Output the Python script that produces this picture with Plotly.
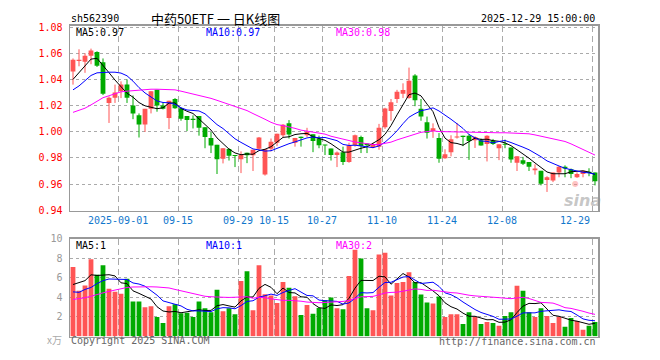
import plotly.graph_objects as go
import pandas as pd
import numpy as np

# ---------------- data ----------------
opens = [1.046,1.054,1.0535,1.058,1.061,1.053,1.022,1.026,1.031,1.036,
         1.020,1.0126,1.0055,1.0175,1.032,1.020,1.0105,1.025,1.018,1.012,
         1.010,1.012,1.0035,0.9953,0.990,0.9793,0.9869,0.9822,0.979,0.984,
         0.982,0.987,0.9674,0.987,0.9916,0.9973,1.0064,0.9916,0.9955,0.9973,
         0.998,0.9948,0.990,0.9871,0.9822,0.9844,0.9768,0.9899,0.996,0.991,
         0.9881,0.9886,1.0035,1.0158,1.025,1.029,1.0257,1.043,1.0175,1.0072,
         1.0005,0.9953,0.9798,0.9844,0.9955,0.997,0.997,0.9935,0.9935,0.9906,
         0.9933,0.9874,0.9906,0.9879,0.9763,0.9783,0.9768,0.9706,0.9701,0.9632,
         0.9627,0.9689,0.9733,0.9714,0.9652,0.9677,0.9694,0.9689]
highs = [1.056,1.063,1.060,1.0635,1.0615,1.056,1.027,1.036,1.0385,1.040,
         1.0277,1.014,1.0175,1.031,1.032,1.0225,1.0237,1.0257,1.0185,1.012,
         1.0125,1.012,1.0035,0.9998,0.990,0.9874,0.9875,0.9822,0.985,0.984,
         0.9862,0.996,0.9867,0.9948,0.9985,1.0059,1.0089,0.9953,0.9963,1.003,
         0.998,0.997,0.990,0.9871,0.9849,0.9886,0.9916,0.9978,0.997,0.991,
         0.9916,1.006,1.0183,1.025,1.032,1.037,1.049,1.044,1.025,1.0116,
         1.0064,0.999,0.9866,0.9973,1.0067,0.997,0.9983,0.9965,0.9948,0.9973,
         0.9945,0.9904,0.9940,0.9879,0.9812,0.9808,0.9768,0.9751,0.9701,0.9660,
         0.9689,0.9738,0.9743,0.9719,0.9689,0.9701,0.9721,0.9689]
lows = [1.036,1.050,1.045,1.0516,1.0495,1.028,1.0067,1.022,1.0257,1.022,
        1.0096,0.9956,0.9998,1.014,1.0153,1.017,1.002,1.0175,1.0084,1.0005,
        1.0025,0.997,0.9874,0.9837,0.9677,0.9758,0.978,0.973,0.9684,0.976,
        0.970,0.9862,0.9665,0.985,0.989,0.996,0.9948,0.9886,0.9886,0.996,
        0.9844,0.9874,0.9822,0.978,0.973,0.9746,0.9763,0.9886,0.9837,0.9837,
        0.9874,0.9862,1.0022,1.0084,1.022,1.0257,1.0252,1.0195,1.0084,0.9948,
        0.9953,0.9763,0.9793,0.9812,0.9948,0.989,0.9785,0.9876,0.9894,0.9773,
        0.9899,0.9783,0.9874,0.9763,0.970,0.9746,0.970,0.9672,0.9590,0.954,
        0.9615,0.9652,0.9652,0.9645,0.9647,0.9652,0.9660,0.959]
closes = [1.055,1.055,1.058,1.062,1.0505,1.029,1.026,1.030,1.036,1.026,
          1.014,1.0055,1.0175,1.031,1.020,1.0175,1.0237,1.018,1.010,1.009,
          1.009,1.003,0.996,0.9894,0.979,0.9874,0.9817,0.9815,0.9825,0.982,
          0.9862,0.9956,0.9867,0.9923,0.9985,1.0054,0.9978,0.9953,0.9953,0.9998,
          0.993,0.9896,0.9894,0.9822,0.9842,0.9768,0.9896,0.9973,0.9891,0.9896,
          0.9906,1.003,1.0178,1.0225,1.0306,1.0318,1.039,1.024,1.0116,0.9993,
          1.0027,0.9793,0.9827,0.9943,0.9962,0.996,0.993,0.996,0.9894,0.997,
          0.9906,0.9904,0.990,0.9788,0.9812,0.9756,0.9733,0.9719,0.9602,0.9652,
          0.9689,0.9733,0.9719,0.9677,0.9677,0.9701,0.9684,0.9622]
volumes = [7.1,4.67,5.2,7.9,6.3,7.27,4.87,4.57,4.37,5.9,
           3.57,3.57,2.97,3.07,1.97,1.37,3.07,3.27,2.37,2.4,
           1.97,3.57,2.87,2.47,4.77,2.57,2.87,2.27,5.67,6.67,
           2.67,7.27,4.3,4.17,3.4,5.57,4.97,4.1,2.17,3.2,
           2.3,2.9,3.7,3.97,2.87,2.77,6.17,8.87,7.97,2.87,
           2.67,8.37,8.57,4.17,5.47,5.57,6.57,5.57,4.27,3.47,
           3.37,4.07,1.97,2.27,2.27,1.27,2.47,1.97,1.27,1.47,
           1.37,1.07,2.07,2.47,5.17,4.67,2.47,1.97,2.87,2.07,
           1.37,1.97,0.97,1.87,1.57,0.67,1.07,1.47]

# moving-average values before the window fills
ma5_head = [1.040, 1.045, 1.050, 1.0555]
ma10_head = [1.032, 1.035, 1.039, 1.043, 1.045, 1.0455, 1.0455, 1.0455, 1.0448]
ma30_head = [1.0148, 1.0165, 1.018, 1.0205, 1.0235, 1.026, 1.0275, 1.029, 1.0305, 1.031,
             1.0315, 1.0318, 1.0322, 1.0325, 1.0325, 1.0325, 1.0322, 1.032, 1.031, 1.030,
             1.029, 1.028, 1.027, 1.0255, 1.024, 1.0225, 1.021, 1.0195, 1.018]
vma5_head = [5.3, 5.5, 5.7, 6.3]
vma10_head = [4.55, 4.5, 4.8, 5.0, 5.4, 5.7, 5.87, 5.87, 5.85]
vma30_head = [3.77, 3.85, 3.95, 4.1, 4.3, 4.45, 4.6, 4.75, 4.9, 5.0,
              5.05, 5.07, 5.07, 5.07, 5.05, 5.0, 4.95, 4.8, 4.65, 4.5,
              4.4, 4.25, 4.1, 4.05, 4.0, 4.0, 3.98, 3.97, 4.02]

price_ticks = [0.94, 0.96, 0.98, 1.00, 1.02, 1.04, 1.06, 1.08]
vol_ticks = [2, 4, 6, 8, 10]
tick_dates = ["2025-09-01", "2025-09-15", "2025-09-29", "2025-10-15", "2025-10-27",
              "2025-11-10", "2025-11-24", "2025-12-08", "2025-12-29"]
tick_labels = ["2025-09-01", "09-15", "09-29", "10-15", "10-27", "11-10", "11-24", "12-08", "12-29"]

symbol = "sh562390"
title = "中药50ETF 一 日K线图"
stamp = "2025-12-29 15:00:00"
price_legend = ["MA5:0.97", "MA10:0.97", "MA30:0.98"]
vol_legend = ["MA5:1", "MA10:1", "MA30:2"]

# trading days (National Day holiday excluded)
days = pd.bdate_range("2025-08-20", "2025-12-29")
days = days[(days < "2025-10-01") | (days > "2025-10-08")]
dates = [d.strftime("%Y-%m-%d") for d in days]
n = len(closes)
idx = np.arange(n)

def moving(values, w, head):
    out = pd.Series(values, dtype=float).rolling(w).mean().to_numpy()
    out[:w - 1] = head
    return out

RED = "#ff5555"
GREEN = "#00aa00"
W, H = 660, 360
MONO = "DejaVu Sans Mono"

o = np.array(opens); c = np.array(closes)
up = c >= o
colors = [RED if u else GREEN for u in up]
body_base = np.minimum(o, c)
body_h = np.maximum(np.abs(c - o), 0.0008)

fig = go.Figure()

# wicks
for flag, col in ((True, RED), (False, GREEN)):
    xs, ys = [], []
    for i in idx:
        if up[i] == flag:
            xs += [i, i, None]
            ys += [lows[i], highs[i], None]
    fig.add_trace(go.Scatter(x=xs, y=ys, mode="lines", line=dict(color=col, width=1),
                             xaxis="x", yaxis="y", hoverinfo="skip"))

fig.add_trace(go.Bar(x=idx, y=body_h, base=body_base, width=0.8,
                     marker=dict(color=colors, line=dict(width=0)), xaxis="x", yaxis="y"))

for vals, w, head, col in ((closes, 5, ma5_head, "black"), (closes, 10, ma10_head, "#0000ff"),
                           (closes, 30, ma30_head, "#ff00ff")):
    fig.add_trace(go.Scatter(x=idx, y=moving(vals, w, head), mode="lines",
                             line=dict(color=col, width=1), xaxis="x", yaxis="y"))

fig.add_trace(go.Bar(x=idx, y=volumes, width=0.8,
                     marker=dict(color=colors, line=dict(width=0)), xaxis="x2", yaxis="y2"))
for vals, w, head, col in ((volumes, 5, vma5_head, "black"), (volumes, 10, vma10_head, "#0000ff"),
                           (volumes, 30, vma30_head, "#ff00ff")):
    fig.add_trace(go.Scatter(x=idx, y=moving(vals, w, head), mode="lines",
                             line=dict(color=col, width=1), xaxis="x2", yaxis="y2"))

grid_x = [dates.index(d) - 0.5 for d in tick_dates]

xcommon = dict(domain=[70 / W, 598 / W], range=[-0.5, n - 0.5], tickvals=grid_x,
               showticklabels=False, showgrid=True, griddash="6px,4px", gridcolor="#aaaaaa",
               gridwidth=1, showline=True, mirror=True, linecolor="#999999", linewidth=1.5,
               zeroline=False, ticks="", fixedrange=True)

p_top, p_bot = 20.5, 211.0
ppx = 1350.0
lo = 0.94 - (p_bot - 210.7) / ppx
hi = 0.94 + (210.7 - p_top) / ppx

fig.update_layout(
    width=W, height=H, margin=dict(l=0, r=0, t=0, b=0),
    paper_bgcolor="white", plot_bgcolor="white", showlegend=False, barmode="overlay",
    hovermode=False,
    xaxis=dict(**xcommon, anchor="y"),
    xaxis2=dict(**xcommon, anchor="y2", matches="x"),
    yaxis=dict(domain=[1 - p_bot / H, 1 - p_top / H], range=[lo, hi], tickvals=price_ticks,
               ticktext=[f"{v:.2f}" for v in price_ticks],
               tickfont=dict(family=MONO, size=10, color="#ff0000"),
               showgrid=True, griddash="dot", gridcolor="#aaaaaa", gridwidth=1,
               showline=True, mirror=True, linecolor="#999999", linewidth=1.5,
               zeroline=False, ticks="", ticklabelstandoff=4, anchor="x", fixedrange=True),
    yaxis2=dict(domain=[1 - 341 / H, 1 - 240 / H], range=[-0.03, 10], tickvals=vol_ticks,
                ticktext=[str(v) for v in vol_ticks],
                tickfont=dict(family=MONO, size=10, color="#999999"),
                showgrid=True, griddash="dot", gridcolor="#aaaaaa", gridwidth=1,
                showline=True, mirror=True, linecolor="#999999", linewidth=1.5,
                zeroline=False, ticks="", ticklabelstandoff=4, anchor="x2", fixedrange=True),
)

def ann(text, xp, yp, color="black", size=10, family=MONO, xanchor="left", **kw):
    fig.add_annotation(text=text, x=xp / W, y=1 - yp / H, xref="paper", yref="paper",
                       xanchor=xanchor, yanchor="middle", showarrow=False,
                       font=dict(family=family, size=size, color=color), **kw)

ann(symbol, 69, 12.5)
ann(title, 149, 12.5, size=13, family="Noto Sans CJK SC")
ann(stamp, 597, 12.5, xanchor="right")

for txt, xp, col in zip(price_legend, (74, 204, 334), ("black", "#0000ff", "#ff00ff")):
    ann(txt, xp, 27, color=col)
for txt, xp, col in zip(vol_legend, (74, 204, 334), ("black", "#0000ff", "#ff00ff")):
    ann(txt, xp, 247, color=col)

ann("x万", 64, 344, color="#aaaaaa", xanchor="right", size=10, family="Noto Sans CJK SC")
ann("Copyright 2025 SINA.COM", 69, 345.5, color="#666666")
ann("http://finance.sina.com.cn", 598, 346, color="#666666", xanchor="right")

# date labels
for k, (gx, lab) in enumerate(zip(grid_x, tick_labels)):
    last = k == len(tick_labels) - 1
    fig.add_annotation(text=lab, x=gx, y=1 - 221 / H, xref="x", yref="paper",
                       xanchor="right" if last else "center", yanchor="middle",
                       showarrow=False, font=dict(family=MONO, size=10, color="#1177cc"))

# sina watermark
ann("<b><i>sina</i></b>", 582, 201, color="rgba(150,150,150,0.55)", size=16,
    family="DejaVu Sans", xanchor="center")
ann("●", 575, 183, color="rgba(255,120,120,0.45)", size=8, family="DejaVu Sans",
    xanchor="center")

fig.write_html("out.html", config={"displayModeBar": False, "staticPlot": True},
               post_script="document.body.style.margin='0px';document.body.style.padding='0px';")
